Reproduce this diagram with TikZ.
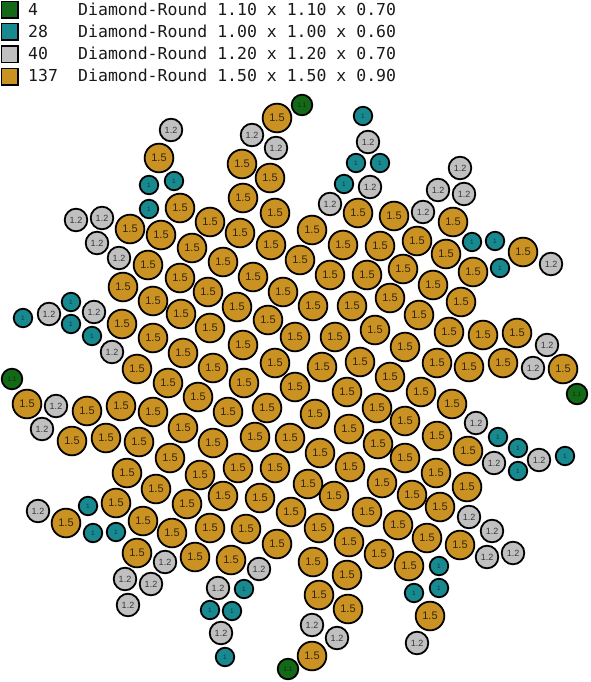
\documentclass[tikz,border=0pt]{standalone}
\usepackage{fontspec}
\newfontfamily\legfont{DejaVu Sans Mono}
\newfontfamily\lblfont{Liberation Sans}
\definecolor{cgold}{RGB}{201,146,34}
\definecolor{cgray}{RGB}{192,192,192}
\definecolor{cteal}{RGB}{24,137,143}
\definecolor{cgreen}{RGB}{20,105,25}
\definecolor{tgold}{RGB}{55,38,8}
\definecolor{tgray}{RGB}{55,55,55}
\definecolor{tteal}{RGB}{8,60,65}
\definecolor{tgreen}{RGB}{8,45,8}
\begin{document}
\begin{tikzpicture}[x=1pt,y=-1pt,
  ball/.style={circle,draw=black,line width=1.8pt,inner sep=0pt},
  b15/.style={ball,fill=cgold,minimum size=28.7pt,text=tgold,font=\lblfont\fontsize{11}{12}\selectfont},
  b12/.style={ball,fill=cgray,minimum size=22.6pt,text=tgray,font=\lblfont\fontsize{9}{10}\selectfont},
  b10/.style={ball,fill=cteal,minimum size=18.5pt,text=tteal,font=\lblfont\fontsize{6.5}{7}\selectfont},
  b11/.style={ball,fill=cgreen,minimum size=20.6pt,text=tgreen,font=\lblfont\fontsize{6.5}{7}\selectfont},
  legsq/.style={draw=black,line width=1.5pt,minimum size=16.5pt,inner sep=0pt},
  legtxt/.style={anchor=base west,inner sep=0pt,text=black!90,font=\legfont\fontsize{16.5}{18}\selectfont}]
\useasboundingbox (0,0) rectangle (590,682);
% legend
\node[legsq,fill=cgreen] (sq1) at (9.5,10) {};
\node[legsq,fill=cteal] (sq2) at (9.5,32) {};
\node[legsq,fill=cgray] (sq3) at (9.5,54.5) {};
\node[legsq,fill=cgold] (sq4) at (9.5,76.7) {};
\node[legtxt] (n1) at (28,15.3) {4};
\node[legtxt] (n2) at (28,37.3) {28};
\node[legtxt] (n3) at (28,59.5) {40};
\node[legtxt] (n4) at (28,81.7) {137};
\node[legtxt] (d1) at (78,15.3) {Diamond-Round 1.10 x 1.10 x 0.70};
\node[legtxt] (d2) at (78,37.3) {Diamond-Round 1.00 x 1.00 x 0.60};
\node[legtxt] (d3) at (78,59.5) {Diamond-Round 1.20 x 1.20 x 0.70};
\node[legtxt] (d4) at (78,81.7) {Diamond-Round 1.50 x 1.50 x 0.90};
% gold 1.5
\foreach \p [count=\i] in {(277,118),(159,158),(242,164),(270,178),(243,198),(180,208),(275,213),(358,213),(394,216),(453,222),
(210,222),(130,229),(161,235),(240,233),(312,230),(417,241),(192,248),(271,245),(343,245),(380,246),
(523,252),(446,254),(223,262),(300,260),(148,265),(403,269),(473,272),(180,278),(253,277),(330,275),
(367,275),(433,285),(123,287),(208,292),(283,292),(153,301),(461,302),(237,307),(313,306),(352,306),
(390,298),(122,324),(181,314),(419,315),(210,328),(268,320),(375,330),(153,338),(295,337),(335,337),
(449,332),(483,335),(517,333),(243,345),(405,347),(183,353),(137,369),(213,368),(275,363),(322,367),
(360,362),(437,363),(469,367),(503,363),(563,369),(168,383),(244,383),(295,387),(390,377),(347,392),
(421,392),(198,397),(27,404),(87,411),(121,406),(153,412),(228,412),(267,408),(315,414),(377,408),
(452,404),(405,421),(183,428),(349,429),(72,441),(106,438),(139,442),(213,443),(255,437),(290,438),
(378,444),(437,436),(468,451),(320,453),(170,458),(405,458),(127,473),(238,468),(275,468),(350,467),
(436,473),(200,475),(308,484),(382,483),(467,487),(156,489),(223,496),(260,498),(334,496),(412,495),
(116,503),(187,504),(367,512),(291,512),(440,507),(66,523),(143,521),(172,533),(210,528),(246,529),
(319,528),(398,525),(427,538),(349,542),(277,544),(460,545),(137,553),(195,557),(231,560),(379,554),
(313,562),(409,566),(347,575),(319,595),(348,609),(430,616),(312,656)}
  \node[b15] (o\i) at \p {1.5};
% gray 1.2
\foreach \p [count=\i] in {(171,130),(252,135),(368,142),(276,148),(460,168),(370,187),(438,190),(464,194),(330,204),(423,212),
(76,220),(102,218),(97,243),(119,258),(551,264),(49,314),(94,312),(112,352),(547,345),(533,368),
(56,406),(476,423),(42,429),(539,460),(494,463),(38,511),(469,517),(492,531),(487,557),(513,553),
(165,562),(259,569),(125,579),(151,584),(218,588),(128,605),(312,625),(221,633),(337,638),(417,643)}
  \node[b12] (g\i) at \p {1.2};
% teal 1
\foreach \p [count=\i] in {(363,116),(356,163),(380,163),(149,185),(174,181),(344,184),(149,209),(472,242),(495,241),(500,268),
(71,302),(23,318),(71,324),(92,336),(498,437),(518,448),(565,456),(518,471),(88,506),(93,533),
(116,532),(439,566),(244,589),(439,588),(414,593),(210,610),(232,611),(225,657)}
  \node[b10] (t\i) at \p {1};
% green 1.1
\foreach \p [count=\i] in {(302,105),(12,379),(577,394),(288,669)}
  \node[b11] (k\i) at \p {1.1};
\end{tikzpicture}
\end{document}
